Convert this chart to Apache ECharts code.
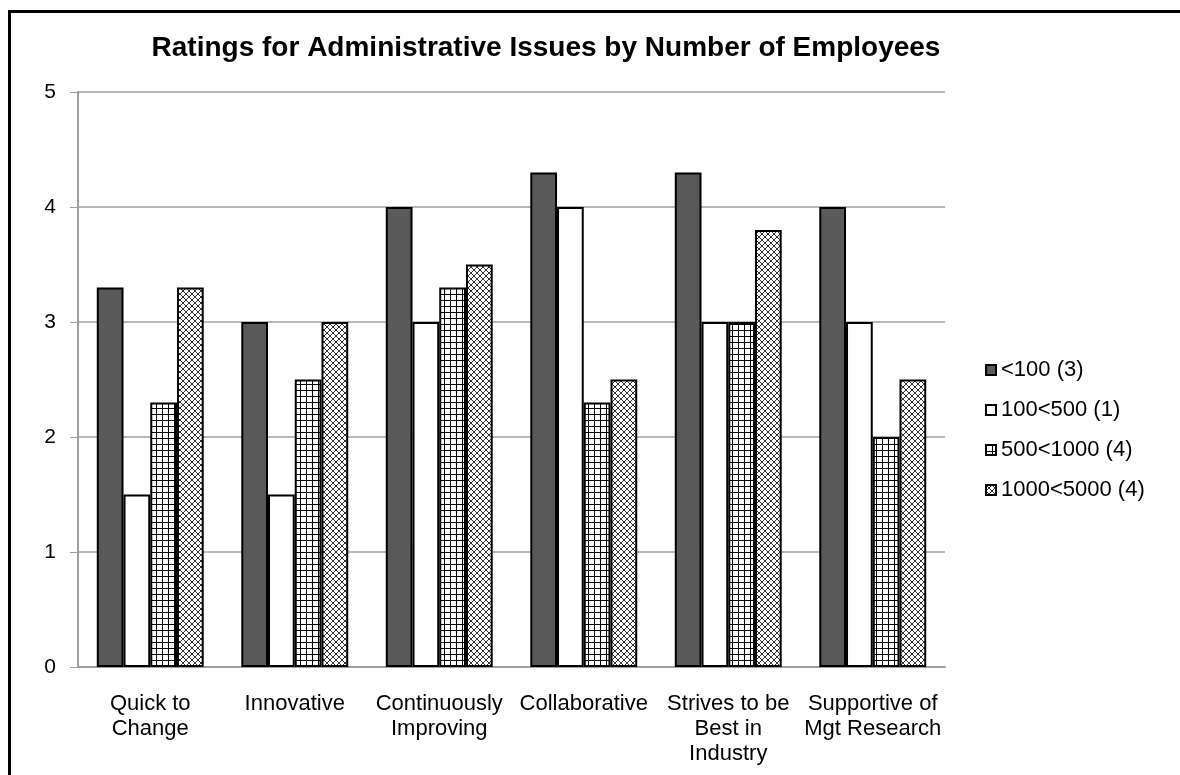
<!DOCTYPE html>
<html>
<head>
<meta charset="utf-8">
<script src="https://cdn.jsdelivr.net/npm/echarts@6/dist/echarts.min.js"></script>
<style>
html, body { margin: 0; padding: 0; background: #fff; }
#chart { width: 1180px; height: 775px; }
</style>
</head>
<body>
<div id="chart"></div>
<script>
var categories = ['Quick to\nChange', 'Innovative', 'Continuously\nImproving', 'Collaborative', 'Strives to be\nBest in\nIndustry', 'Supportive of\nMgt Research'];
var seriesNames = ['<100 (3)', '100<500 (1)', '500<1000 (4)', '1000<5000 (4)'];
var under100 = [3.3, 3.0, 4.0, 4.3, 4.3, 4.0];
var from100to500 = [1.5, 1.5, 3.0, 4.0, 3.0, 3.0];
var from500to1000 = [2.3, 2.5, 3.3, 2.3, 3.0, 2.0];
var from1000to5000 = [3.3, 3.0, 3.5, 2.5, 3.8, 2.5];
var yTicks = [0, 1, 2, 3, 4, 5];

// 网格图案
function gridPattern() {
	var c = document.createElement('canvas');
	c.width = 6; c.height = 6;
	var ctx = c.getContext('2d');
	ctx.fillStyle = '#fff';
	ctx.fillRect(0, 0, 6, 6);
	ctx.fillStyle = '#000';
	ctx.fillRect(0, 0, 6, 1);
	ctx.fillRect(0, 0, 1, 6);
	return c;
}
// 斜交叉图案
function crossPattern() {
	var c = document.createElement('canvas');
	c.width = 6; c.height = 6;
	var ctx = c.getContext('2d');
	ctx.fillStyle = '#fff';
	ctx.fillRect(0, 0, 6, 6);
	ctx.strokeStyle = '#333';
	ctx.lineWidth = 1;
	ctx.beginPath();
	ctx.moveTo(0, 0); ctx.lineTo(6, 6);
	ctx.moveTo(6, 0); ctx.lineTo(0, 6);
	ctx.stroke();
	return c;
}

var fills = [
	'#595959',
	'#ffffff',
	{ image: gridPattern(), repeat: 'repeat' },
	{ image: crossPattern(), repeat: 'repeat' }
];
var datas = [under100, from100to500, from500to1000, from1000to5000];

var chart = echarts.init(document.getElementById('chart'));
var font = 'Liberation Sans, Arial, sans-serif';
var option = {
	backgroundColor: '#fff',
	animation: false,
	title: {
		text: 'Ratings for Administrative Issues by Number of Employees',
		left: 541,
		textAlign: 'center',
		top: 29,
		textStyle: { fontFamily: font, fontSize: 28, fontWeight: 'bold', color: '#000' }
	},
	graphic: [{
		type: 'rect',
		shape: { x: 9.5, y: 11.5, width: 1300, height: 900 },
		style: { fill: 'none', stroke: '#000', lineWidth: 3 },
		silent: true
	}],
	legend: {
		orient: 'vertical',
		left: 980,
		top: 354,
		itemWidth: 10,
		itemHeight: 10,
		itemGap: 18,
		icon: 'rect',
		textStyle: { fontFamily: font, fontSize: 22, color: '#000' },
		data: seriesNames
	},
	grid: { left: 78, right: 235, top: 92, bottom: 108 },
	xAxis: {
		type: 'category',
		data: categories,
		axisLine: { lineStyle: { color: '#a0a0a0', width: 2 } },
		axisTick: { show: false },
		axisLabel: { fontFamily: font, fontSize: 22, color: '#000', margin: 24, lineHeight: 25, interval: 0 }
	},
	yAxis: {
		type: 'value',
		min: yTicks[0],
		max: yTicks[yTicks.length - 1],
		interval: 1,
		axisLine: { show: true, lineStyle: { color: '#a0a0a0', width: 2 } },
		axisTick: { show: true, length: 8, inside: false, lineStyle: { color: '#a0a0a0' } },
		splitLine: { lineStyle: { color: '#a0a0a0', width: 1.5 } },
		axisLabel: { fontFamily: font, fontSize: 21, color: '#000', margin: 22 }
	},
	series: seriesNames.map(function (name, i) {
		return {
			name: name,
			type: 'bar',
			data: datas[i],
			barGap: '0%',
			barCategoryGap: '26%',
			itemStyle: { color: fills[i], borderColor: '#000', borderWidth: 2 }
		};
	})
};
chart.setOption(option);
</script>
</body>
</html>
